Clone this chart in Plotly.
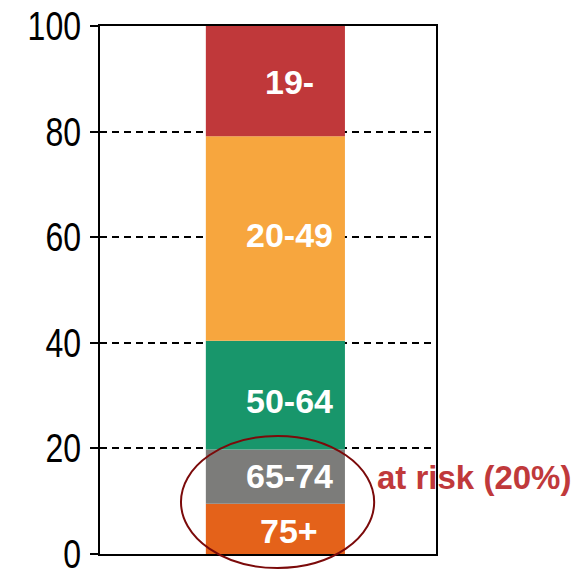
import plotly.graph_objects as go

groups = ["75+", "65-74", "50-64", "20-49", "19-"]
shares = [9.5, 10.3, 20.6, 38.7, 20.9]
colors = ["#E4621A", "#7C7C7A", "#18966B", "#F7A63E", "#C0383A"]
tick_vals = [0, 20, 40, 60, 80, 100]
label_yshift = [-2, 1, -6, 4, -1]  # small pixel nudges of the in-bar labels

fig = go.Figure()
base = 0
for g, v, c, dy in zip(groups, shares, colors, label_yshift):
    fig.add_trace(go.Bar(x=[0], y=[v], base=[base], width=0.414, marker=dict(color=c, line=dict(width=0)),
                         name=g, showlegend=False, hoverinfo="skip"))
    fig.add_annotation(x=0, y=base + v / 2, text="<b>%s</b>" % g, showarrow=False, xshift=14, yshift=dy,
                       font=dict(family="Liberation Sans, Arial", size=34, color="white"))
    base += v

fig.add_annotation(xref="paper", yref="y", x=1, y=14.5, xanchor="left", xshift=-61, showarrow=False,
                   text="<b>at risk (20%)</b>",
                   font=dict(family="Liberation Sans, Arial", size=33, color="#C0393B"))

fig.add_shape(type="circle", xref="x domain", yref="y domain", x0=0.241, x1=0.816, y0=-0.0265, y1=0.2236,
              line=dict(color="#7B0A0A", width=2), fillcolor="rgba(0,0,0,0)", layer="above")

fig.update_layout(
    width=577, height=569,
    margin=dict(l=100, r=141, t=26, b=15),
    paper_bgcolor="white", plot_bgcolor="white",
    barmode="overlay",
    xaxis=dict(range=[-0.522, 0.478], showticklabels=False, ticks="", showgrid=False, zeroline=False,
               showline=True, linecolor="black", linewidth=2, mirror=True, automargin=False),
    yaxis=dict(range=[0, 100], tickvals=tick_vals, ticks="outside", ticklen=8, tickwidth=2, tickcolor="black",
               showgrid=True, gridcolor="black", gridwidth=2, griddash="7px,5px", zeroline=False,
               showline=True, linecolor="black", linewidth=2, mirror=True, automargin=False,
               tickfont=dict(family="Liberation Sans, Arial", size=40, color="black"),
               ticklabelstandoff=1, ticklabeloverflow="allow"),
)

# narrow the tick labels horizontally (the reference uses a condensed face)
post = """
var gd = document.getElementById('{plot_id}');
function narrowTicks(){
  gd.querySelectorAll('.ytick text').forEach(function(t){
    t.removeAttribute('textLength');
    var w = t.getComputedTextLength();
    t.setAttribute('textLength', (w*0.8).toFixed(1));
    t.setAttribute('lengthAdjust', 'spacingAndGlyphs');
  });
}
narrowTicks();
setTimeout(narrowTicks, 30);
if (gd.on) { gd.on('plotly_afterplot', narrowTicks); }
"""

fig.write_html("out.html", post_script=post)
